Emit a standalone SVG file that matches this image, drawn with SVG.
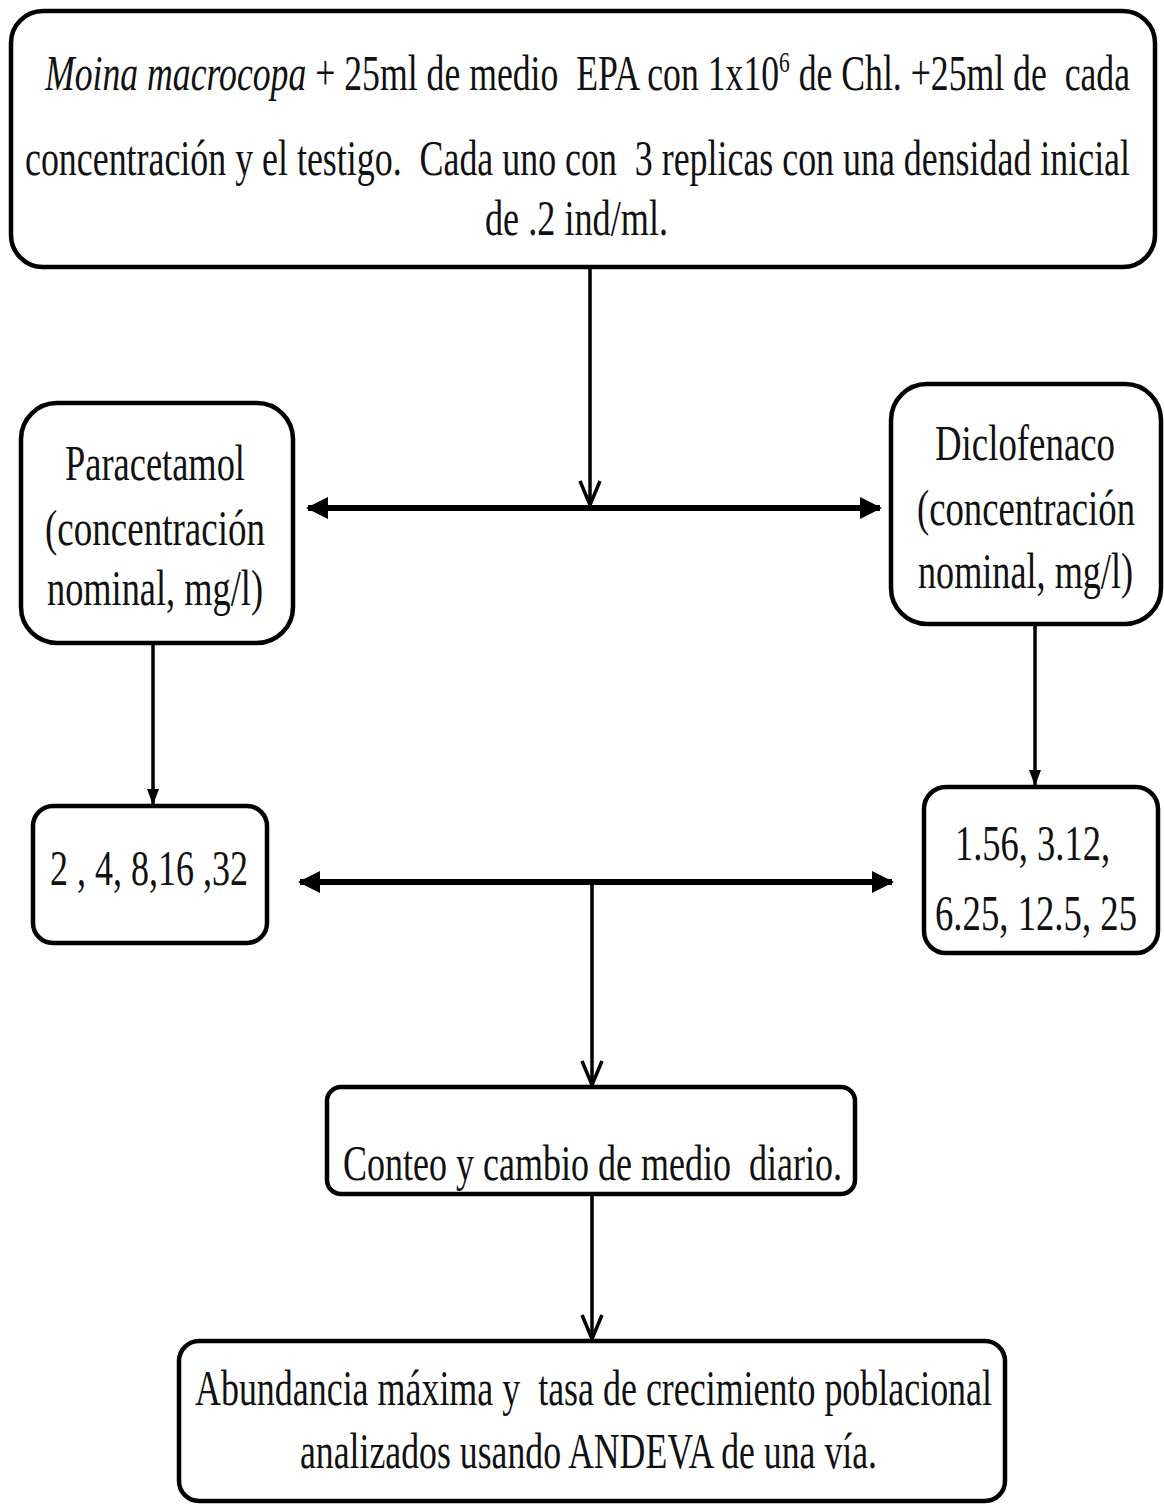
<svg xmlns="http://www.w3.org/2000/svg" width="1164" height="1505" viewBox="0 0 1164 1505">
<style>
.box{fill:#fff;stroke:#000;stroke-width:4.5}
.t{font-family:"Liberation Serif","Times New Roman",serif;fill:#111;font-size:50px;white-space:pre}
.thin{stroke:#000;stroke-width:3.5;fill:none}
.thick{stroke:#000;stroke-width:6;fill:none}
</style>
<defs>
<marker id="vopen" markerUnits="userSpaceOnUse" viewBox="0 0 28 24" refX="26" refY="12" markerWidth="28" markerHeight="24" orient="auto">
<path d="M2,2 L26,12 L2,22" fill="none" stroke="#000" stroke-width="3.5"/>
</marker>
<marker id="tri" markerUnits="userSpaceOnUse" viewBox="0 0 22 22" refX="20" refY="11" markerWidth="22" markerHeight="22" orient="auto-start-reverse">
<path d="M0,0 L22,11 L0,22 Z" fill="#000"/>
</marker>
<marker id="small" markerUnits="userSpaceOnUse" viewBox="0 0 16 12" refX="15" refY="6" markerWidth="16" markerHeight="12" orient="auto">
<path d="M0,0 L16,6 L0,12 Z" fill="#000"/>
</marker>
</defs>
<rect width="1164" height="1505" fill="#fff"/>

<g id="connectors">
<line class="thin" x1="590" y1="268" x2="590" y2="505" marker-end="url(#vopen)"/>
<line class="thick" x1="308" y1="508" x2="880" y2="508" marker-start="url(#tri)" marker-end="url(#tri)"/>
<line class="thin" x1="153" y1="643" x2="153" y2="804" marker-end="url(#small)"/>
<line class="thin" x1="1035" y1="625" x2="1035" y2="785" marker-end="url(#small)"/>
<line class="thick" x1="300" y1="882" x2="892" y2="882" marker-start="url(#tri)" marker-end="url(#tri)"/>
<line class="thin" x1="592" y1="882" x2="592" y2="1085" marker-end="url(#vopen)"/>
<line class="thin" x1="592" y1="1195" x2="592" y2="1339" marker-end="url(#vopen)"/>
</g>

<g id="node-top">
<rect class="box" x="11" y="11" width="1144" height="256" rx="32"/>
<text class="t" x="45" y="90" textLength="1085" lengthAdjust="spacingAndGlyphs"><tspan font-style="italic">Moina macrocopa</tspan> + 25ml de medio  EPA con 1x10<tspan font-size="30" dy="-18">6</tspan><tspan dy="18"> de Chl. +25ml de  cada</tspan></text>
<text class="t" x="25" y="175" textLength="1105" lengthAdjust="spacingAndGlyphs">concentración y el testigo.  Cada uno con  3 replicas con una densidad inicial</text>
<text class="t" x="485" y="235" textLength="183" lengthAdjust="spacingAndGlyphs">de .2 ind/ml.</text>
</g>

<g id="node-paracetamol">
<rect class="box" x="21" y="403" width="272" height="240" rx="36"/>
<text class="t" x="65" y="480" font-size="52" textLength="180" lengthAdjust="spacingAndGlyphs">Paracetamol</text>
<text class="t" x="45" y="545" font-size="52" textLength="220" lengthAdjust="spacingAndGlyphs">(concentración</text>
<text class="t" x="47" y="605" font-size="52" textLength="216" lengthAdjust="spacingAndGlyphs">nominal, mg/l)</text>
</g>

<g id="node-diclofenaco">
<rect class="box" x="891" y="384" width="270" height="240" rx="36"/>
<text class="t" x="935" y="460" font-size="52" textLength="180" lengthAdjust="spacingAndGlyphs">Diclofenaco</text>
<text class="t" x="917" y="525" font-size="52" textLength="218" lengthAdjust="spacingAndGlyphs">(concentración</text>
<text class="t" x="918" y="588" font-size="52" textLength="215" lengthAdjust="spacingAndGlyphs">nominal, mg/l)</text>
</g>

<g id="node-para-conc">
<rect class="box" x="33" y="806" width="234" height="137" rx="20"/>
<text class="t" x="50" y="885" textLength="198" lengthAdjust="spacingAndGlyphs">2 , 4, 8,16 ,32</text>
</g>

<g id="node-diclo-conc">
<rect class="box" x="924" y="787" width="234" height="166" rx="22"/>
<text class="t" x="955" y="860" textLength="155" lengthAdjust="spacingAndGlyphs">1.56, 3.12,</text>
<text class="t" x="935" y="930" textLength="202" lengthAdjust="spacingAndGlyphs">6.25, 12.5, 25</text>
</g>

<g id="node-conteo">
<rect class="box" x="327" y="1087" width="528" height="107" rx="14"/>
<text class="t" x="343" y="1180" textLength="499" lengthAdjust="spacingAndGlyphs">Conteo y cambio de medio  diario.</text>
</g>

<g id="node-abundancia">
<rect class="box" x="179" y="1341" width="826" height="160" rx="20"/>
<text class="t" x="195" y="1405" textLength="797" lengthAdjust="spacingAndGlyphs">Abundancia máxima y  tasa de crecimiento poblacional</text>
<text class="t" x="300" y="1468" textLength="577" lengthAdjust="spacingAndGlyphs">analizados usando ANDEVA de una vía.</text>
</g>
</svg>
